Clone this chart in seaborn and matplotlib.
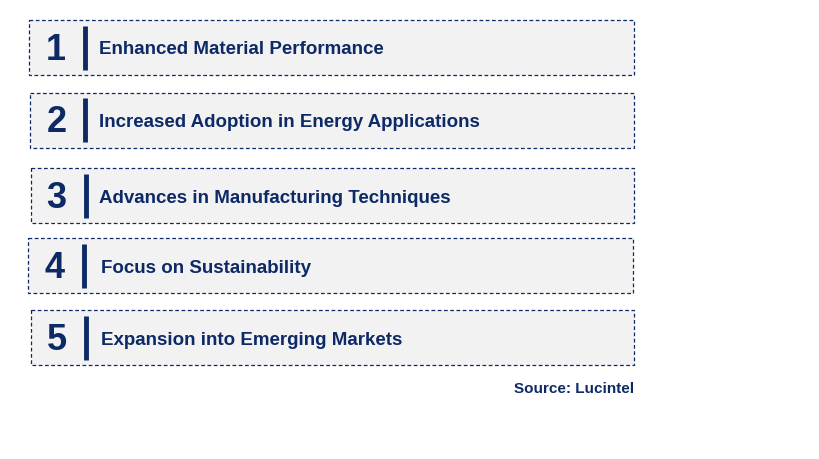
import matplotlib
matplotlib.use("Agg")
import matplotlib.pyplot as plt
import seaborn as sns
import pandas as pd

ranks = ["1", "2", "3", "4", "5"]
labels = [
    "Enhanced Material Performance",
    "Increased Adoption in Energy Applications",
    "Advances in Manufacturing Techniques",
    "Focus on Sustainability",
    "Expansion into Emerging Markets",
]
source = "Source: Lucintel"

NAVY = "#0d2a66"
FILL = "#f2f2f2"

# layout (pixels)
row_center = [48.5, 121.0, 196.7, 266.7, 338.8]
row_left = [29.0, 30.0, 30.5, 28.3, 30.5]
row_right = [634.0, 634.0, 634.0, 633.0, 634.0]
row_bar_x = [84.5, 85.0, 85.5, 83.5, 85.5]
row_num_x = [55.5, 56.5, 56.5, 55.0, 57.0]
row_text_x = [99, 99, 99, 101, 101]
box_h = 55

sns.set_theme(style="white")
plt.rcParams["font.family"] = ["Liberation Sans", "DejaVu Sans"]

fig = plt.figure(figsize=(8.19, 4.60), dpi=100)
ax = fig.add_axes([0, 0, 1, 1])

df = pd.DataFrame({"rank": ranks, "label": labels, "length": [1] * len(ranks)})
sns.barplot(data=df, y="rank", x="length", orient="h", color=FILL, width=0.76,
            edgecolor=NAVY, linewidth=0.9, ax=ax, saturation=1)
ax.set_xlim(0, 819)
ax.set_ylim(460, 0)
for i, p in enumerate(ax.patches):
    p.set_linestyle((0, (3, 2)))
    p.set_x(row_left[i])
    p.set_width(row_right[i] - row_left[i])
    p.set_y(row_center[i] - box_h / 2)
    p.set_height(box_h)
ax.axis("off")

for i, (r, lab) in enumerate(zip(ranks, labels)):
    c = row_center[i]
    ax.text(row_num_x[i], c + 2.0, r, ha="center", va="center", fontsize=26,
            fontweight="bold", color=NAVY)
    ax.plot([row_bar_x[i]] * 2, [c - 22, c + 22], color=NAVY, lw=3.5,
            solid_capstyle="butt")
    ax.text(row_text_x[i], c + 1.5, lab, ha="left", va="center", fontsize=13.5,
            fontweight="bold", color=NAVY)

ax.text(634, 389, source, ha="right", va="center", fontsize=11,
        fontweight="bold", color=NAVY)

fig.savefig("out.png", dpi=100, facecolor="white")
